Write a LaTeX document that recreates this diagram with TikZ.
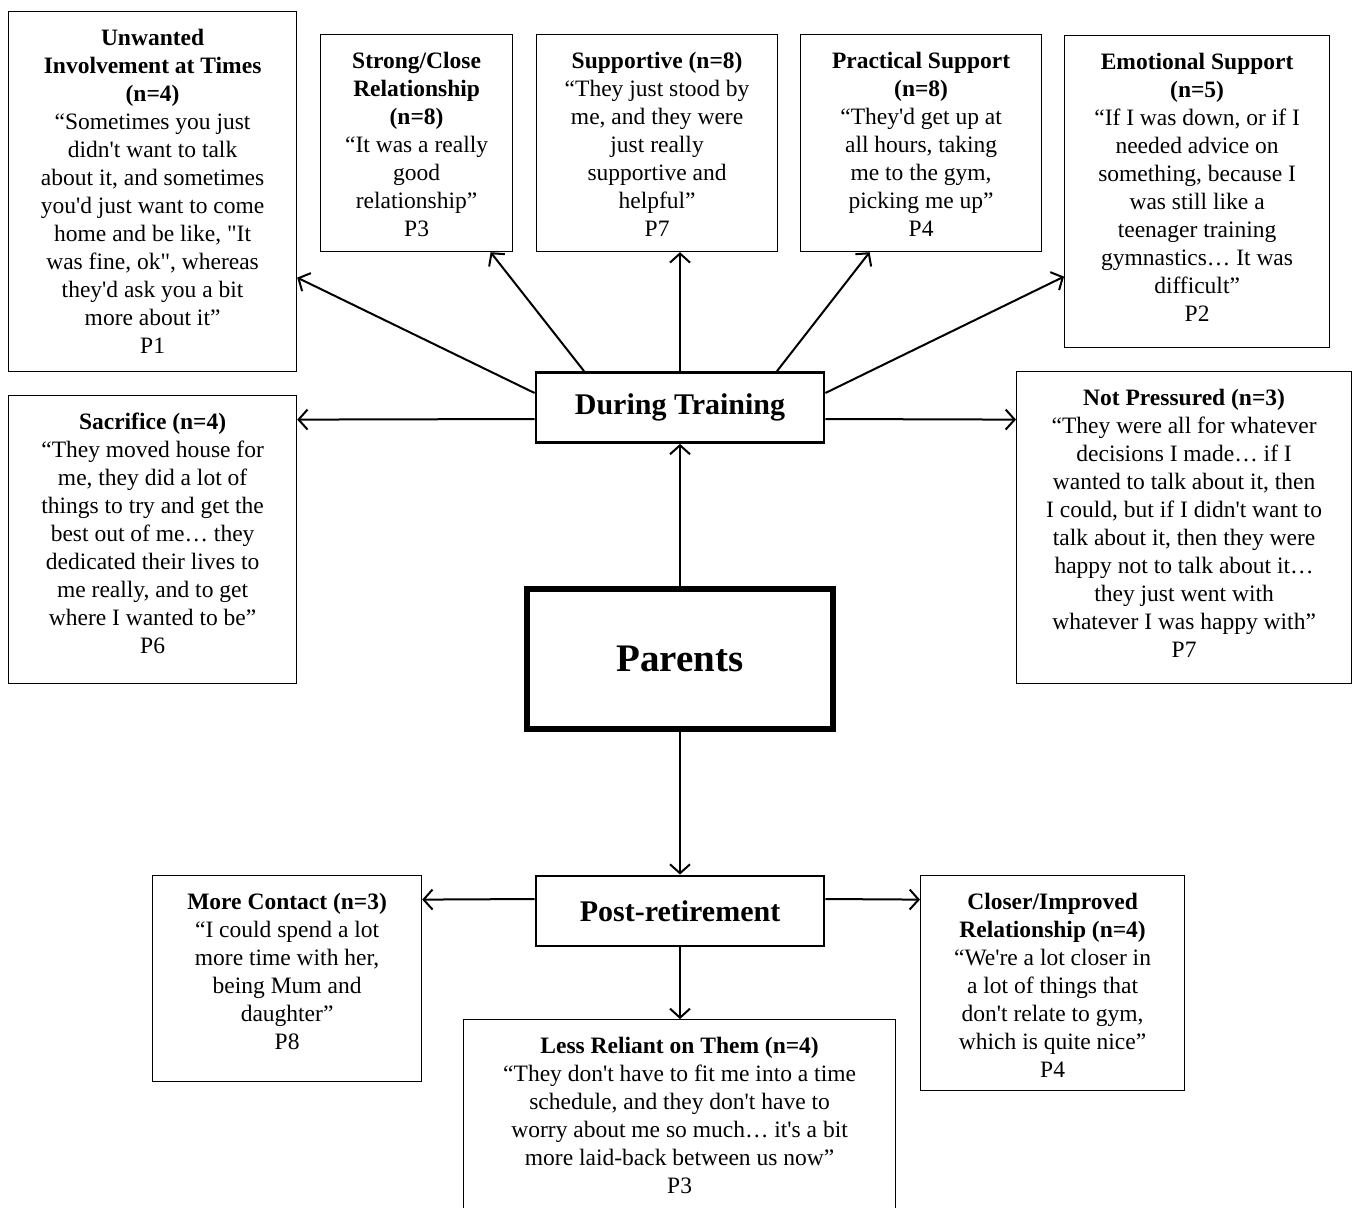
\documentclass[tikz,border=0pt]{standalone}
\usepackage{fontspec}
\setmainfont{Liberation Serif}[Ligatures=TeXOff]
\usetikzlibrary{arrows.meta}

\newcommand{\themetext}[3]{\parbox[c][#2][t]{#1}{\centering\vspace*{14pt}\strut#3}}

\tikzset{
  theme/.style={draw, line width=1.2pt, inner sep=0pt, anchor=north west,
    font=\fontsize{23.5}{28}\selectfont},
  stage/.style={draw, line width=2.8pt, minimum width=288pt, minimum height=70pt,
    font=\bfseries\fontsize{30}{34}\selectfont},
  core/.style={draw, line width=6pt, minimum width=306pt, minimum height=140pt,
    font=\bfseries\fontsize{39}{44}\selectfont},
  arr/.style={-{Straight Barb[length=9pt,width=20pt]}, line width=2pt}
}

\begin{document}
\begin{tikzpicture}[x=1pt, y=-1pt]
        \path[use as bounding box, fill=white] (0,0) rectangle (1356,1207);

        \node[core]  (par)  at (680,659)   {Parents};
        \node[stage] (dt)   at (680,407.5) {During Training};
        \node[stage] (post) at (680,911)   {Post-retirement};

        % during training
        \node[theme] (unw) at (8,11) {\themetext{288pt}{360pt}{\textbf{Unwanted}\\ \textbf{Involvement at Times}\\ \textbf{(n=4)}\\ “Sometimes you just\\ didn't want to talk\\ about it, and sometimes\\ you'd just want to come\\ home and be like, "It\\ was fine, ok", whereas\\ they'd ask you a bit\\ more about it”\\ P1}};
        \node[theme] (strong) at (320,34) {\themetext{192pt}{217pt}{\textbf{Strong/Close}\\ \textbf{Relationship}\\ \textbf{(n=8)}\\ “It was a really\\ good\\ relationship”\\ P3}};
        \node[theme] (supp) at (536,34) {\themetext{241pt}{217pt}{\textbf{Supportive (n=8)}\\ “They just stood by\\ me, and they were\\ just really\\ supportive and\\ helpful”\\ P7}};
        \node[theme] (prac) at (800,34) {\themetext{241pt}{217pt}{\textbf{Practical Support}\\ \textbf{(n=8)}\\ “They'd get up at\\ all hours, taking\\ me to the gym,\\ picking me up”\\ P4}};
        \node[theme] (emo) at (1064,35) {\themetext{265pt}{312pt}{\textbf{Emotional Support}\\ \textbf{(n=5)}\\ “If I was down, or if I\\ needed advice on\\ something, because I\\ was still like a\\ teenager training\\ gymnastics… It was\\ difficult”\\ P2}};
        \node[theme] (sac) at (8,395) {\themetext{288pt}{288pt}{\textbf{Sacrifice (n=4)}\\ “They moved house for\\ me, they did a lot of\\ things to try and get the\\ best out of me… they\\ dedicated their lives to\\ me really, and to get\\ where I wanted to be”\\ P6}};
        \node[theme] (notp) at (1016,371) {\themetext{335pt}{312pt}{\textbf{Not Pressured (n=3)}\\ “They were all for whatever\\ decisions I made… if I\\ wanted to talk about it, then\\ I could, but if I didn't want to\\ talk about it, then they were\\ happy not to talk about it…\\ they just went with\\ whatever I was happy with”\\ P7}};

        % post-retirement
        \node[theme] (more) at (152,875) {\themetext{269pt}{206pt}{\textbf{More Contact (n=3)}\\ “I could spend a lot\\ more time with her,\\ being Mum and\\ daughter”\\ P8}};
        \node[theme] (closer) at (920,875) {\themetext{264pt}{215pt}{\textbf{Closer/Improved}\\ \textbf{Relationship (n=4)}\\ “We're a lot closer in\\ a lot of things that\\ don't relate to gym,\\ which is quite nice”\\ P4}};
        \node[theme] (less) at (463,1019) {\themetext{432pt}{230pt}{\textbf{Less Reliant on Them (n=4)}\\ “They don't have to fit me into a time\\ schedule, and they don't have to\\ worry about me so much… it's a bit\\ more laid-back between us now”\\ P3}};

        \draw[arr] (par) -- (dt);
        \draw[arr] (par) -- (post);

        \draw[arr] ([yshift=14.5pt]dt.west) -- ([yshift=-86pt]unw.east);
        \draw[arr] ([xshift=-96pt]dt.north) -- ([xshift=74pt]strong.south);
        \draw[arr] (dt.north) -- (dt.north |- supp.south);
        \draw[arr] ([xshift=97pt]dt.north) -- ([xshift=-51.5pt]prac.south);
        \draw[arr] ([yshift=14.5pt]dt.east) -- ([yshift=-85pt]emo.west);
        \draw[arr] ([yshift=-11.5pt]dt.west) -- ([yshift=120pt]sac.east);
        \draw[arr] ([yshift=-11.5pt]dt.east) -- ([yshift=108pt]notp.west);

        \draw[arr] ([yshift=12pt]post.west) -- ([yshift=79pt]more.east);
        \draw[arr] ([yshift=12pt]post.east) -- ([yshift=83.5pt]closer.west);
        \draw[arr] (post) -- (post |- less.north);
    \end{tikzpicture}
\end{document}
